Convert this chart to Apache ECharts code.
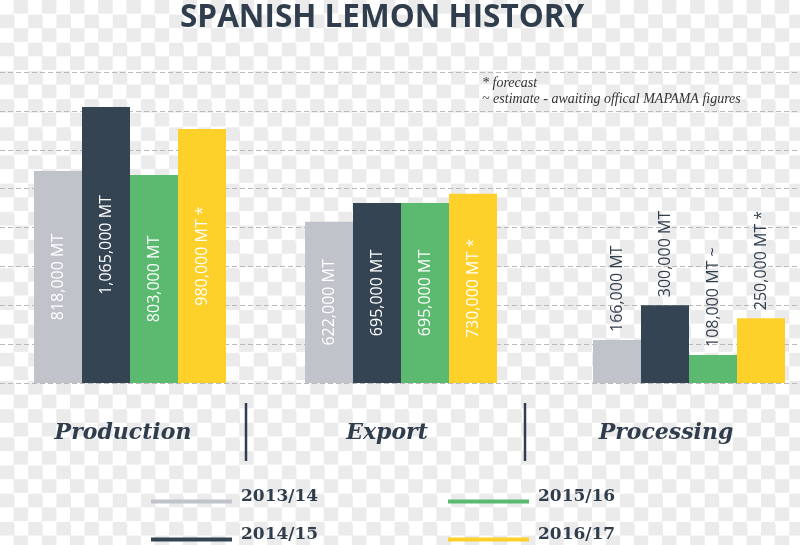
<!DOCTYPE html>
<html><head><meta charset="utf-8">
<script src="https://cdn.jsdelivr.net/npm/echarts@6/dist/echarts.min.js"></script>
<style>
html,body{margin:0;padding:0;}
body{width:800px;height:545px;background:repeating-conic-gradient(#ebebeb 0 25%, #ffffff 0 50%) 0 0/28.2px 28.2px;}
#chart{width:800px;height:545px;}
</style></head><body><div id="chart"></div>
<script>
// ---- data ----
const categories = ['Production', 'Export', 'Processing'];
const seasons = ['2013/14', '2014/15', '2015/16', '2016/17'];
const values1314 = [818000, 622000, 166000];
const values1415 = [1065000, 695000, 300000];
const values1516 = [803000, 695000, 108000];
const values1617 = [980000, 730000, 250000];
const notes1314 = ['', '', ''];
const notes1415 = ['', '', ''];
const notes1516 = ['', '', '~'];
const notes1617 = ['*', '*', '*'];
const titleText = 'SPANISH LEMON HISTORY';
const footnotes = ['* forecast', '~ estimate - awaiting offical MAPAMA figures'];

// ---- styling / layout ----
const seasonValues = [values1314, values1415, values1516, values1617];
const seasonNotes = [notes1314, notes1415, notes1516, notes1617];
const colors = ['#c1c3cb', '#344452', '#5bb970', '#fdd02a'];
const dark = '#2f3d4c';
const groupLeft = [33, 304, 592];
const groupWidth = 194;
const catLabelX = [123, 387, 666];
const gridTop = 72, gridHeight = 311;
const yMax = 1200000, yStep = 150000;

const grids = [{left: 0, right: 0, top: gridTop, height: gridHeight}];
const xAxes = [{type: 'value', gridIndex: 0, show: false}];
const yAxes = [{type: 'value', gridIndex: 0, min: 0, max: yMax, interval: yStep,
  axisLabel: {show: false}, axisLine: {show: false}, axisTick: {show: false},
  splitLine: {show: true, lineStyle: {color: '#b9b9b9', type: [5, 3], width: 1}}}];
const series = [];

categories.forEach((cat, i) => {
  grids.push({left: groupLeft[i], width: groupWidth, top: gridTop, height: gridHeight});
  xAxes.push({type: 'category', gridIndex: i + 1, data: [cat], show: false});
  yAxes.push({type: 'value', gridIndex: i + 1, min: 0, max: yMax, interval: yStep, show: false,
    splitLine: {show: false}});
  seasons.forEach((s, j) => {
    const note = seasonNotes[j][i];
    const outside = (i === 2);
    series.push({
      type: 'bar', name: s, xAxisIndex: i + 1, yAxisIndex: i + 1,
      barWidth: 48, barGap: '0%',
      data: [seasonValues[j][i]],
      itemStyle: {color: colors[j]},
      label: {
        show: true,
        position: outside ? 'top' : 'inside',
        distance: 8,
        rotate: 90,
        align: outside ? 'left' : 'center',
        verticalAlign: 'middle',
        color: outside ? dark : '#ffffff',
        fontFamily: 'Open Sans', fontSize: 16,
        formatter: p => p.value.toLocaleString('en-US') + ' MT' + (note ? ' ' + note : '')
      },
      emphasis: {disabled: true}
    });
  });
});

const legendBase = {
  orient: 'vertical', itemWidth: 81, itemHeight: 4, icon: 'rect', itemGap: 21,
  padding: 0, selectedMode: false,
  formatter: name => '{a|' + name + '}',
  textStyle: {rich: {a: {fontFamily: 'DejaVu Serif', fontWeight: 'bold', fontSize: 17, color: dark,
    padding: [0, 0, 10, 4]}}}
};

const graphic = [];
footnotes.forEach((t, k) => graphic.push({type: 'text', x: 482, y: 83 + k * 16,
  style: {text: t, font: 'italic 14px "Liberation Serif"', fill: '#333', textAlign: 'left', textVerticalAlign: 'middle', align: 'left', verticalAlign: 'middle'}}));
categories.forEach((c, i) => graphic.push({type: 'text', x: catLabelX[i], y: 433,
  style: {text: c, font: 'italic bold 22px "DejaVu Serif"', fill: dark, textAlign: 'center', textVerticalAlign: 'middle', align: 'center', verticalAlign: 'middle'}}));
[246, 525].forEach(x => graphic.push({type: 'line', shape: {x1: x, y1: 403, x2: x, y2: 461},
  style: {stroke: dark, lineWidth: 2.5}}));

const chart = echarts.init(document.getElementById('chart'), null, {renderer: 'canvas'});
chart.setOption({
  backgroundColor: 'transparent',
  animation: false,
  title: {text: titleText, left: 180, top: 2, padding: 0,
    textStyle: {fontFamily: 'Open Sans', fontWeight: 'bold', fontSize: 31.5, color: dark}},
  grid: grids, xAxis: xAxes, yAxis: yAxes, series: series,
  legend: [
    Object.assign({}, legendBase, {data: [seasons[0], seasons[1]], left: 151, top: 488}),
    Object.assign({}, legendBase, {data: [seasons[2], seasons[3]], left: 448, top: 488})
  ],
  graphic: graphic
});
</script></body></html>
